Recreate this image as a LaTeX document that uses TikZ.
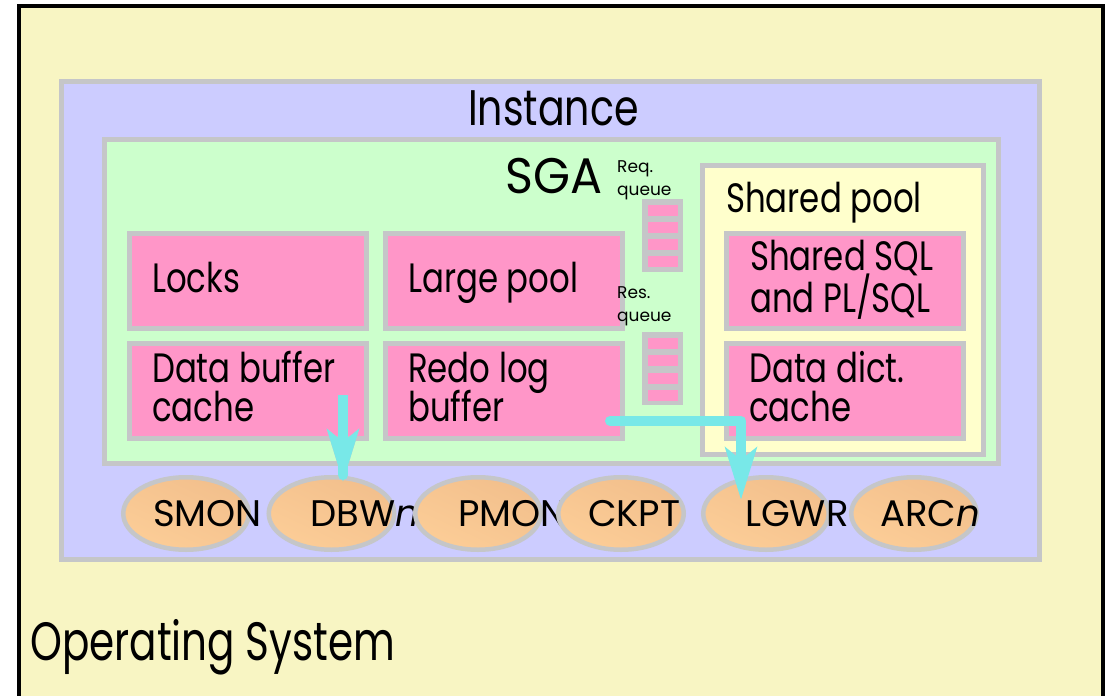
\documentclass[tikz,border=0pt]{standalone}
\usepackage{fontspec}
\setmainfont{Poppins}
\newfontfamily\narrowface{Poppins}[FakeStretch=0.79]
\newfontfamily\widetitleface{Poppins}[FakeStretch=0.75]
\newfontfamily\capface{Poppins}[FakeStretch=0.95]
\usetikzlibrary{arrows.meta,shapes.geometric}
\definecolor{osyellow}{HTML}{F8F5C3}
\definecolor{instblue}{HTML}{CCCCFF}
\definecolor{sgagreen}{HTML}{CCFFCC}
\definecolor{poolyellow}{HTML}{FFFFCC}
\definecolor{mempink}{HTML}{FF96C8}
\definecolor{rimgray}{HTML}{C5C6C8}
\definecolor{peach}{HTML}{FCCD97}
\definecolor{peachdark}{HTML}{F2BF8C}
\definecolor{flowcyan}{HTML}{78E8E8}
\tikzset{
  region/.style={draw=rimgray, line width=5pt, rectangle, inner sep=0pt},
  membox/.style={region, fill=mempink, minimum width=237pt, minimum height=95pt},
  stackbg/.style={fill=rimgray, rectangle, inner sep=0pt, minimum width=41pt, minimum height=73pt},
  slot/.style={fill=mempink, rectangle, inner sep=0pt, minimum width=30pt, minimum height=11pt},
  proc/.style={ellipse, draw=rimgray, line width=4.5pt, inner sep=0pt,
    minimum width=125.5pt, minimum height=72.5pt,
    top color=peachdark, bottom color=peach, shading angle=-25},
  lbl/.style={anchor=base west, inner sep=0pt, font=\narrowface\fontsize{41}{45}\selectfont},
  biglbl/.style={anchor=base west, inner sep=0pt, font=\narrowface\fontsize{50}{55}\selectfont},
  smalllbl/.style={anchor=base west, inner sep=0pt, font=\fontsize{17}{20}\selectfont},
  proclbl/.style={anchor=base west, inner sep=0pt, font=\fontsize{37}{40}\selectfont},
  flow/.style={draw=flowcyan, line width=10pt, line join=round,
    -{Stealth[length=52pt,width=31pt,inset=12pt]}},
  flowshadow/.style={flow, draw=rimgray}
}
\begin{document}
\begin{tikzpicture}[x=1pt,y=-1pt]
\useasboundingbox (0,0) rectangle (1109,696);
\clip (0,0) rectangle (1109,696);

% operating system frame, open at the bottom
\fill[osyellow] (19,6) rectangle (1103,710);
\draw[line width=3.5pt] (19,710) -- (19,6) -- (1103,6) -- (1103,710);
\node[biglbl, font=\widetitleface\fontsize{54}{60}\selectfont] (os) at (30,660) {Operating System};

% instance and SGA
\node[region, fill=instblue, minimum width=978pt, minimum height=478pt] (instance) at (550.5,320.5) {};
\node[biglbl] (instancelbl) at (468,125) {Instance};
\node[region, fill=sgagreen, minimum width=894pt, minimum height=323.5pt] (sga) at (551.5,301.25) {};
\node[biglbl, font=\capface\fontsize{50}{55}\selectfont] (sgalbl) at (505,193) {SGA};

% memory areas
\node[membox] (locks) at (247.5,281) {};
\node[lbl] (lockslbl) at (152,292) {Locks};
\node[membox] (large) at (504,281) {};
\node[lbl] (largelbl) at (408,292) {Large pool};
\node[membox] (dbc) at (247.5,391) {};
\node[lbl] (dbclbla) at (152,382) {Data buffer};
\node[lbl] (dbclblb) at (152,421) {cache};
\node[membox] (redo) at (504,391) {};
\node[lbl] (redolbla) at (408,382) {Redo log};
\node[lbl] (redolblb) at (408,421) {buffer};

% request and response queues
\node[smalllbl] (reqa) at (617,172) {Req.};
\node[smalllbl] (reqb) at (617,195) {queue};
\node[stackbg] (reqq) at (662.5,235.5) {};
\foreach \k/\yy in {1/210,2/227,3/244,4/261}
  \node[slot] (req\k) at (663,\yy) {};
\node[smalllbl] (resa) at (617,298) {Res.};
\node[smalllbl] (resb) at (617,321) {queue};
\node[stackbg] (resq) at (662.5,368.5) {};
\foreach \k/\yy in {1/343,2/360.5,3/378,4/395}
  \node[slot] (res\k) at (663,\yy) {};

% shared pool
\node[region, fill=poolyellow, minimum width=281pt, minimum height=289pt] (pool) at (843,310) {};
\node[lbl] (poollbl) at (726,212) {Shared pool};
\node[membox] (sql) at (845,281) {};
\node[lbl] (sqllbla) at (750,270) {Shared SQL};
\node[lbl] (sqllblb) at (750,312) {and PL/SQL};
\node[membox] (dict) at (845,391) {};
\node[lbl] (dictlbla) at (749,382) {Data dict.};
\node[lbl] (dictlblb) at (749,421) {cache};

% background processes
\node[proc] (smon) at (186,513.5) {};
\node[proclbl] (smonlbl) at (153,526) {SMON};
\node[proc] (dbw) at (331.5,513.5) {};
\node[proclbl] (dbwlbl) at (310,526) {DBW\textit{n}};
\node[proc] (pmon) at (478,513.5) {};
\node[proclbl] (pmonlbl) at (458,526) {PMON};
\node[proc] (ckpt) at (621,513.5) {};
\node[proclbl] (ckptlbl) at (588,526) {CKPT};
\node[proc] (lgwr) at (766,513.5) {};
\node[proclbl] (lgwrlbl) at (745,526) {LGWR};
\node[proc] (arc) at (914,513.5) {};
\node[proclbl] (arclbl) at (880,526) {ARC\textit{n}};

% data flows from the buffers to their writers
\coordinate (dbcout) at (343,395);
\coordinate (redoout) at (610,421);
\coordinate (redobend) at (741,421);
\draw[flowshadow, shift={(6,5)}] (dbcout) -- (dbcout |- dbw.north) -- ++(0,7);
\draw[flow] (dbcout) -- (dbcout |- dbw.north) -- ++(0,7);
\draw[flow, line cap=round] (redoout) -- (redobend) -- (redobend |- lgwr.north) -- ++(0,25);
\end{tikzpicture}
\end{document}
